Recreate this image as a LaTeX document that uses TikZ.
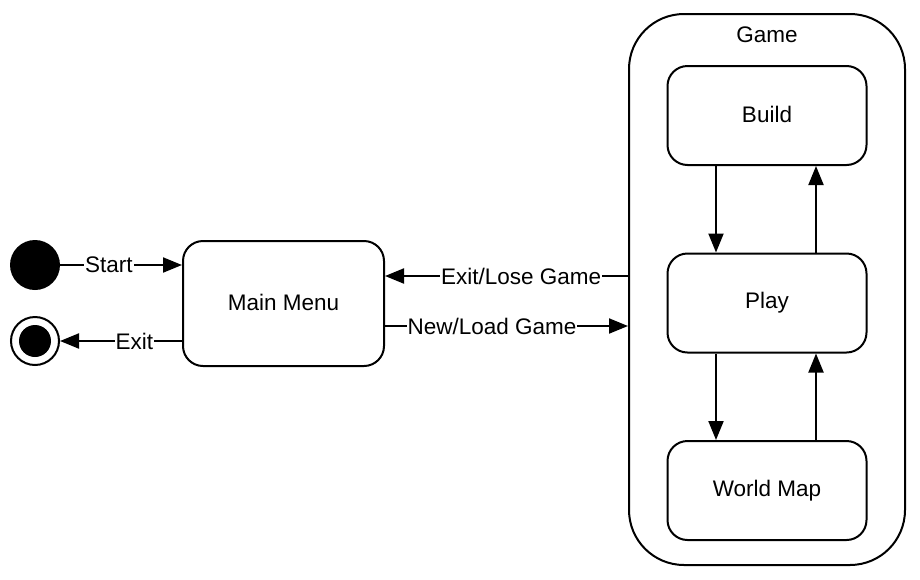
\documentclass[tikz,border=0pt]{standalone}
\usepackage{fontspec}
\setmainfont{Liberation Sans}
\usetikzlibrary{arrows.meta}
\begin{document}
\begin{tikzpicture}[x=1pt,y=-1pt,
  every node/.style={font=\fontsize{22.5}{27}\selectfont},
  state/.style={draw,line width=2pt,rounded corners=20pt,minimum width=199pt,minimum height=99pt,inner sep=0pt},
  conn/.style={line width=2pt,-{Triangle[length=19pt,width=15pt]}},
  lbl/.style={fill=white,inner sep=1pt}]
\useasboundingbox (0,0) rectangle (920,579);
% Game container
\node[draw,line width=2pt,rounded corners=55pt,minimum width=276pt,minimum height=551pt,inner sep=0pt] (game) at (767,289.5) {};
\node (gamelbl) at (767,35) {Game};
% states
\node[state,minimum width=201pt,minimum height=125pt] (menu) at (283.5,303.5) {\raisebox{2pt}{Main Menu}};
\node[state] (build) at (767,115.5) {\raisebox{2pt}{Build}};
\node[state] (play) at (767,303) {Play};
\node[state] (map) at (767,490.5) {World Map};
% start / end
\node[circle,fill=black,minimum size=50pt,inner sep=0pt] (start) at (35,265) {};
\node[circle,draw,line width=2pt,minimum size=48pt,inner sep=0pt] (end) at (35,341) {};
\node[circle,fill=black,minimum size=32pt,inner sep=0pt] (endin) at (35,341) {};
% connectors
\draw[conn] (start.east) -- node[lbl,pos=0.4]{Start} (start.east -| menu.west);
\draw[conn] (menu.west |- end.east) -- node[lbl,pos=0.39]{Exit} (end.east);
\coordinate (g1) at (game.west |- 0,276);
\coordinate (g2) at (game.west |- 0,326);
\draw[conn] (g1) -- node[lbl,pos=0.44]{Exit/Lose Game} (menu.east |- g1);
\draw[conn] (menu.east |- g2) -- node[lbl,pos=0.44]{New/Load Game} (g2);
\draw[conn] (716,0 |- build.south) -- (716,0 |- play.north);
\draw[conn] (816,0 |- play.north) -- (816,0 |- build.south);
\draw[conn] (716,0 |- play.south) -- (716,0 |- map.north);
\draw[conn] (816,0 |- map.north) -- (816,0 |- play.south);
\end{tikzpicture}
\end{document}
